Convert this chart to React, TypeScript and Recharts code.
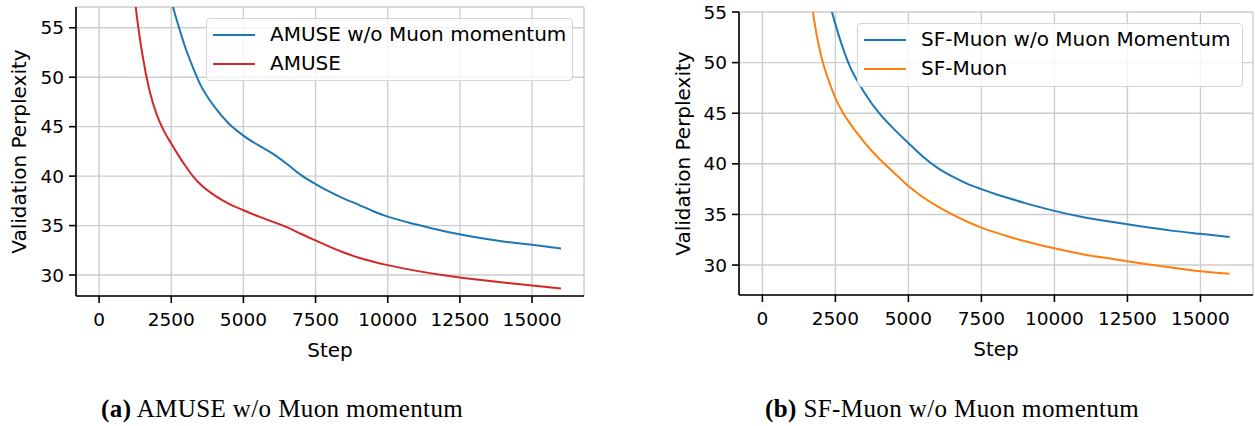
import React from 'react';
import { LineChart, Line, XAxis, YAxis, CartesianGrid, Legend } from 'recharts';

// training steps shared by all four curves
const steps = [1000, 1250, 1500, 1750, 2000, 2250, 2500, 2750, 3000, 3250, 3500, 4000, 4500, 5000, 5500, 6000, 6500, 7000, 7500, 8000, 8500, 9000, 9500, 10000, 11000, 12000, 13000, 14000, 15000, 16000];

// (a) AMUSE
const amuseNoMomentum = [null, null, null, null, null, 61.5, 57.8, 55.2, 52.9, 51.0, 49.3, 47.0, 45.3, 44.1, 43.15, 42.3, 41.25, 40.1, 39.2, 38.4, 37.7, 37.1, 36.45, 35.9, 35.1, 34.4, 33.85, 33.4, 33.05, 32.68];
const amuse = [66, 57.6, 52.3, 48.6, 46.2, 44.55, 43.3, 42.1, 41.0, 40.0, 39.2, 38.05, 37.2, 36.55, 35.95, 35.4, 34.85, 34.15, 33.5, 32.85, 32.25, 31.75, 31.35, 31.0, 30.42, 29.95, 29.57, 29.24, 28.94, 28.64];

// (b) SF-Muon
const sfMuonNoMomentum = [null, null, null, null, 60.0, 56.5, 53.8, 51.5, 49.6, 48.2, 47.0, 45.0, 43.45, 42.05, 40.7, 39.6, 38.75, 38.05, 37.5, 37.0, 36.55, 36.12, 35.72, 35.35, 34.72, 34.25, 33.8, 33.4, 33.08, 32.78];
const sfMuon = [null, null, 60.5, 54.6, 50.8, 48.4, 46.5, 45.1, 44.0, 43.0, 42.1, 40.5, 39.15, 37.8, 36.7, 35.8, 35.0, 34.3, 33.7, 33.2, 32.75, 32.35, 31.98, 31.65, 31.05, 30.6, 30.15, 29.75, 29.39, 29.13];

const stepTicks = [0, 2500, 5000, 7500, 10000, 12500, 15000];
const pplTicks = [30, 35, 40, 45, 50, 55];

const FONT = '"DejaVu Sans", Verdana, sans-serif';
const SERIF = '"Liberation Serif", "Times New Roman", serif';

const dataA = steps.map((step, i) => ({ step, a: amuseNoMomentum[i], b: amuse[i] }));
const dataB = steps.map((step, i) => ({ step, a: sfMuonNoMomentum[i], b: sfMuon[i] }));

const tickStyle = { fontSize: 18.5, fill: '#000', fontFamily: FONT };
const axisStroke = { stroke: '#000', strokeWidth: 1.6 };

const YTitle = ({ viewBox, offsetX }: any) => {
  const cy = viewBox.y + viewBox.height / 2;
  const x = viewBox.x + offsetX;
  return (
    <text transform={`translate(${x}, ${cy}) rotate(-90)`} textAnchor="middle" fontSize={20} fontFamily={FONT} fill="#000">
      Validation Perplexity
    </text>
  );
};

const XTitle = ({ viewBox }: any) => (
  <text x={viewBox.x + viewBox.width / 2} y={viewBox.y + 61} textAnchor="middle" fontSize={20} fontFamily={FONT} fill="#000">
    Step
  </text>
);

// keep the series order (a first, then b), not alphabetical
const LegendBox = ({ payload }: any) => {
  const items = [...(payload || [])].sort((p: any, q: any) => String(p.dataKey).localeCompare(String(q.dataKey)));
  return (
    <div
      style={{
        boxSizing: 'border-box', width: '100%', height: '100%', position: 'relative',
        border: '1.5px solid #d4d4d4', borderRadius: 4, background: 'rgba(255,255,255,0.8)',
        fontFamily: FONT, fontSize: 20, color: '#000',
      }}
    >
      {items.map((p: any, i: number) => (
        <div key={i} style={{ position: 'absolute', left: 0, top: 15.5 + i * 29.5, height: 0 }}>
          <div style={{ position: 'absolute', left: 6, top: -1, width: 42, height: 2, background: p.color }} />
          <div style={{ position: 'absolute', left: 63, top: -13, whiteSpace: 'nowrap', lineHeight: '24px' }}>{p.value}</div>
        </div>
      ))}
    </div>
  );
};

type PanelProps = {
  x: number;
  width: number;
  margin: { top: number; right: number; bottom: number; left: number };
  yAxisWidth: number;
  yDomain: [number, number];
  data: any[];
  names: [string, string];
  colors: [string, string];
  legend: { left: number; top: number; width: number; height: number };
  yTitleX: number;
};

function Panel({ x, width, margin, yAxisWidth, yDomain, data, names, colors, legend, yTitleX }: PanelProps) {
  return (
    <div style={{ position: 'absolute', left: x, top: 0 }}>
      <LineChart width={width} height={370} data={data} margin={margin}>
        <CartesianGrid stroke="#cdcdcd" strokeWidth={1.4} />
        <XAxis
          dataKey="step"
          type="number"
          domain={[-800, 16800]}
          ticks={stepTicks}
          allowDataOverflow
          height={64}
          tick={tickStyle}
          tickSize={7}
          tickMargin={10}
          axisLine={axisStroke}
          tickLine={axisStroke}
          label={<XTitle />}
        />
        <XAxis xAxisId="top" orientation="top" type="number" domain={[-800, 16800]} height={0} tick={false} tickLine={false} axisLine={axisStroke} />
        <YAxis
          type="number"
          domain={yDomain}
          ticks={pplTicks}
          allowDataOverflow
          width={yAxisWidth}
          tick={tickStyle}
          tickSize={7}
          tickMargin={5}
          axisLine={axisStroke}
          tickLine={axisStroke}
          label={<YTitle offsetX={yTitleX} />}
        />
        <YAxis yAxisId="right" orientation="right" type="number" domain={yDomain} width={0} tick={false} tickLine={false} axisLine={axisStroke} />
        <Legend
          layout="vertical"
          align="center"
          verticalAlign="middle"
          wrapperStyle={{ left: legend.left, top: legend.top, width: legend.width, height: legend.height }}
          content={<LegendBox />}
        />
        <Line type="monotone" dataKey="a" name={names[0]} stroke={colors[0]} strokeWidth={2} dot={false} isAnimationActive={false} />
        <Line type="monotone" dataKey="b" name={names[1]} stroke={colors[1]} strokeWidth={2} dot={false} isAnimationActive={false} />
      </LineChart>
    </div>
  );
}

const captionStyle: React.CSSProperties = {
  position: 'absolute', top: 395, fontFamily: SERIF, fontSize: 25, letterSpacing: 0.4, whiteSpace: 'nowrap', color: '#000',
};

export default function App() {
  return (
    <div style={{ position: 'absolute', left: 0, top: 0, width: 1255, height: 426, background: '#fff', overflow: 'hidden' }}>
      <Panel
        x={0}
        width={600}
        margin={{ top: 7, right: 16, bottom: 10, left: 0 }}
        yAxisWidth={76}
        yDomain={[27.88, 57.1]}
        data={dataA}
        names={['AMUSE w/o Muon momentum', 'AMUSE']}
        colors={['#1f77b4', '#d62728']}
        legend={{ left: 206, top: 18, width: 367, height: 63 }}
        yTitleX={25.5}
      />
      <Panel
        x={660}
        width={595}
        margin={{ top: 12, right: 2, bottom: 11, left: 0 }}
        yAxisWidth={79}
        yDomain={[27.04, 55]}
        data={dataB}
        names={['SF-Muon w/o Muon Momentum', 'SF-Muon']}
        colors={['#1f77b4', '#ff7f0e']}
        legend={{ left: 197, top: 23, width: 386, height: 64 }}
        yTitleX={30}
      />
      <div style={{ ...captionStyle, left: 101 }}>
        <span style={{ fontWeight: 'bold' }}>(a)</span> AMUSE w/o Muon momentum
      </div>
      <div style={{ ...captionStyle, left: 765 }}>
        <span style={{ fontWeight: 'bold' }}>(b)</span> SF-Muon w/o Muon momentum
      </div>
    </div>
  );
}
